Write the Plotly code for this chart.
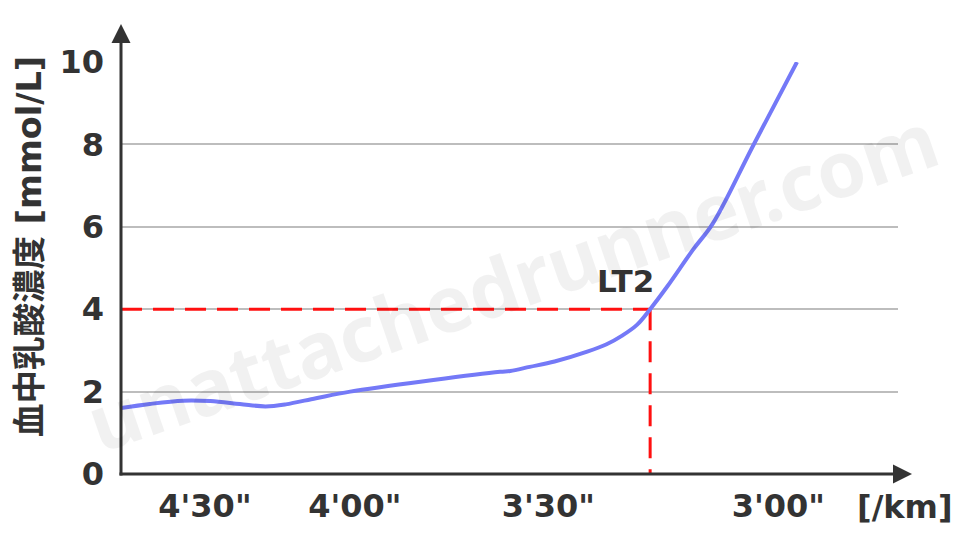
import plotly.graph_objects as go

# ---- data ----
# x: abstract pace position (0 = y-axis, faster to the right)
curve_x = [0.0, 3.7, 8.0, 11.5, 15.3, 18.6, 21.2, 25.1, 29.5, 40.2, 48.8, 50.1, 52.6,
           55.8, 60.0, 62.5, 64.5, 66.4, 68.1, 70.3, 73.6, 76.2, 81.3, 87.0]
curve_y = [1.60, 1.70, 1.78, 1.77, 1.70, 1.64, 1.69, 1.84, 2.00, 2.28, 2.48, 2.50, 2.60,
           2.73, 2.97, 3.15, 3.36, 3.62, 4.00, 4.55, 5.44, 6.09, 7.95, 10.0]
lt2_x = 68.1
lt2_y = 4.0
lt2_label = "LT2"
tick_pos = [10.8, 30.1, 55.0, 84.6]
tick_text = ["4'30\"", "4'00\"", "3'30\"", "3'00\""]
y_ticks = [0, 2, 4, 6, 8, 10]
x_unit = "[/km]"
y_title = "血中乳酸濃度 [mmol/L]"
watermark = "unattachedrunner.com"

DARK = "#333333"
FONT = "DejaVu Sans, Noto Sans CJK JP, sans-serif"

fig = go.Figure()

# LT2 dashed guide lines
fig.add_trace(go.Scatter(x=[0, lt2_x], y=[lt2_y, lt2_y], mode="lines",
                         line=dict(color="#ff1010", width=3, dash="21px,11px"),
                         hoverinfo="skip", showlegend=False))
fig.add_trace(go.Scatter(x=[lt2_x, lt2_x], y=[lt2_y, 0], mode="lines",
                         line=dict(color="#ff1010", width=3, dash="21px,11px"),
                         hoverinfo="skip", showlegend=False))
# lactate curve
fig.add_trace(go.Scatter(x=curve_x, y=curve_y, mode="lines",
                         line=dict(color="#7479f7", width=4, shape="spline", smoothing=1.0),
                         showlegend=False))

# page has an 8px body margin: work in screenshot pixels, shift by OFF
OFF = 8
W, H = 960 - OFF, 540 - OFF
L, T = 121 - OFF, 62 - OFF
R, B = 960 - 898, 540 - 474
pw, ph = W - L - R, H - T - B

def px2paper_x(px):
    return (px - OFF - L) / pw

def px2paper_y(py):
    return (H - B - (py - OFF)) / ph

shapes = []
# y axis line + arrow
shapes.append(dict(type="line", xref="paper", yref="paper",
                   x0=0, x1=0, y0=px2paper_y(475.5), y1=px2paper_y(42),
                   line=dict(color=DARK, width=3)))
ty = px2paper_y(24); by = px2paper_y(43)
hx = 9.5 / pw
shapes.append(dict(type="path", xref="paper", yref="paper",
                   path=f"M 0,{ty} L {-hx},{by} L {hx},{by} Z",
                   fillcolor=DARK, line=dict(color=DARK, width=0)))
# x axis line + arrow
shapes.append(dict(type="line", xref="paper", yref="paper",
                   x0=px2paper_x(119.5), x1=px2paper_x(894), y0=0, y1=0,
                   line=dict(color=DARK, width=3)))
tx = px2paper_x(912); bx = px2paper_x(893)
hy = 9.5 / ph
shapes.append(dict(type="path", xref="paper", yref="paper",
                   path=f"M {tx},0 L {bx},{hy} L {bx},{-hy} Z",
                   fillcolor=DARK, line=dict(color=DARK, width=0)))

annotations = [
    dict(text=watermark, xref="paper", yref="paper",
         x=px2paper_x(512), y=px2paper_y(280), showarrow=False, textangle=-19,
         font=dict(family="Noto Sans, sans-serif", size=78, color="rgba(0,0,0,0.055)", weight="bold")),
    dict(text=lt2_label, x=lt2_x, y=lt2_y, xref="x", yref="y", showarrow=False,
         xanchor="right", yanchor="bottom", xshift=6, yshift=8,
         font=dict(family=FONT, size=31, color=DARK, weight="bold")),
    dict(text=x_unit, xref="paper", yref="paper", x=px2paper_x(905), y=px2paper_y(507),
         showarrow=False, xanchor="center", yanchor="middle",
         font=dict(family=FONT, size=32, color=DARK, weight="bold")),
    dict(text=y_title, xref="paper", yref="paper", x=px2paper_x(29), y=px2paper_y(247),
         showarrow=False, textangle=-90, xanchor="center", yanchor="middle",
         font=dict(family=FONT, size=33.5, color=DARK, weight="bold")),
]

fig.update_layout(
    width=W, height=H,
    margin=dict(l=L, r=R, t=T, b=B, pad=0),
    paper_bgcolor="white", plot_bgcolor="white",
    shapes=shapes, annotations=annotations,
    showlegend=False,
    xaxis=dict(range=[0, 100], tickvals=tick_pos, ticktext=tick_text,
               showgrid=False, zeroline=False, showline=False, ticks="",
               tickfont=dict(family=FONT, size=32, color=DARK, weight="bold"),
               ticklabelstandoff=10, fixedrange=True),
    yaxis=dict(range=[0, 10], tickvals=y_ticks, showgrid=True, gridcolor="#bdbdbd",
               gridwidth=1.5, zeroline=False, showline=False, ticks="",
               tickfont=dict(family=FONT, size=32, color=DARK, weight="bold"),
               ticklabelstandoff=16, fixedrange=True),
)

fig.write_html("out.html")
